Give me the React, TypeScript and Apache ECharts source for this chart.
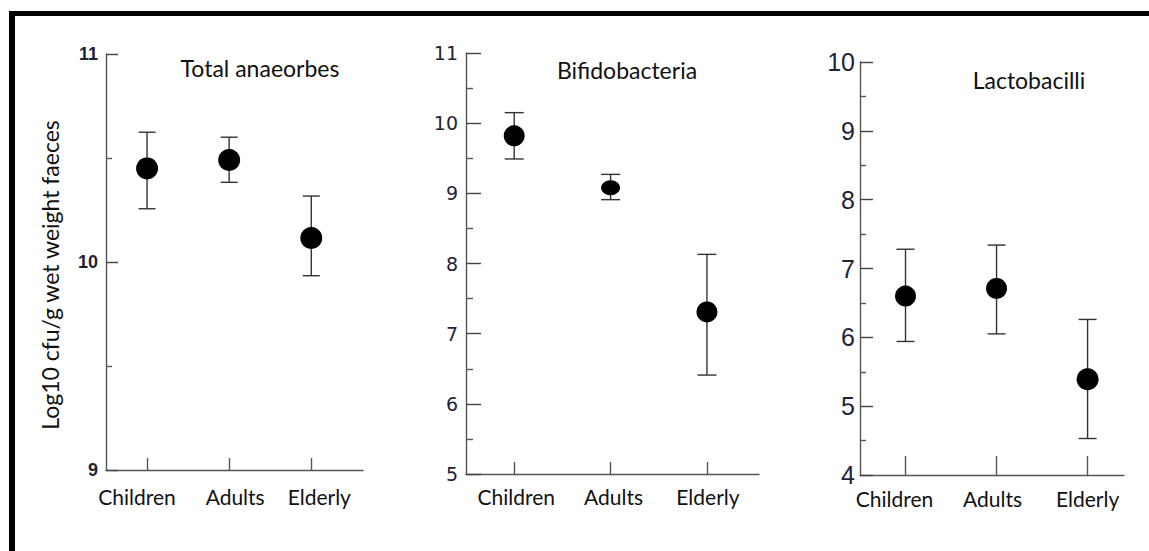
import React, { useEffect, useRef } from "react";
import * as echarts from "echarts";

// Age groups shown on every panel
const groups = ["Children", "Adults", "Elderly"];

// Total anaerobes (log10 cfu/g wet weight faeces): mean and error-bar limits
const anaerobesMean = [10.45, 10.49, 10.115];
const anaerobesLow = [10.256, 10.383, 9.934];
const anaerobesHigh = [10.624, 10.6, 10.317];

// Bifidobacteria
const bifidoMean = [9.82, 9.08, 7.31];
const bifidoLow = [9.49, 8.91, 6.41];
const bifidoHigh = [10.15, 9.27, 8.13];

// Lactobacilli
const lactoMean = [6.6, 6.71, 5.39];
const lactoLow = [5.94, 6.05, 4.53];
const lactoHigh = [7.28, 7.34, 6.26];

// Y-axis ranges for the three panels
const yMin = [9, 5, 4];
const yMax = [11, 11, 10];

const panelTitles = ["Total anaeorbes", "Bifidobacteria", "Lactobacilli"];
const yAxisTitle = "Log10 cfu/g wet weight faeces";

const LABEL_FONT = "Lato, 'Open Sans', sans-serif";

// Layout of each panel
const panels = [
  {
    grid: { left: 106, top: 54, width: 257, height: 416 },
    xMax: 2.63,
    xTickLen: 12,
    yTickLen: 12,
    yMinorLen: 6,
    yLabel: { fontSize: 18, fontWeight: "bold", fontFamily: "Liberation Sans, Arial, sans-serif", margin: 8 },
    xLabelMargin: 16,
    labelShift: [-10, 6, 8],
    capWidth: 17,
    title: { x: 260, y: 70 },
    mean: anaerobesMean,
    low: anaerobesLow,
    high: anaerobesHigh,
    symbolSizes: [22, 22, 22],
  },
  {
    grid: { left: 466, top: 53, width: 293, height: 421 },
    xMax: 2.54,
    xTickLen: 12,
    yTickLen: 15,
    yMinorLen: 7,
    yLabel: { fontSize: 19, fontWeight: "normal", fontFamily: "DejaVu Sans, Verdana, sans-serif", margin: 8 },
    xLabelMargin: 12,
    labelShift: [2, 3, 1],
    capWidth: 19,
    title: { x: 627, y: 72 },
    mean: bifidoMean,
    low: bifidoLow,
    high: bifidoHigh,
    symbolSizes: [21, [19, 15], 21],
  },
  {
    grid: { left: 860, top: 62, width: 264, height: 413 },
    xMax: 2.4,
    xTickLen: 19,
    yTickLen: 13,
    yMinorLen: 6,
    yLabel: {
      fontSize: 25,
      fontWeight: "normal",
      fontFamily: "Liberation Sans Narrow, Liberation Sans, Arial, sans-serif",
      margin: 5,
    },
    xLabelMargin: 13,
    labelShift: [-11, -4, 0],
    capWidth: 18,
    title: { x: 1029, y: 82 },
    mean: lactoMean,
    low: lactoLow,
    high: lactoHigh,
    symbolSizes: [21, 21, 22],
  },
];

function shiftPadding(shift: number): number[] {
  // Center-aligned label: extra padding on one side moves the text the other way
  return shift < 0 ? [0, -2 * shift, 0, 0] : [0, 0, 0, 2 * shift];
}

function buildOption() {
  const grids = panels.map((p) => ({ ...p.grid }));

  const xAxes = panels.map((p, i) => {
    const rich: Record<string, any> = {};
    groups.forEach((_, k) => {
      rich["g" + k] = {
        fontSize: 21,
        fontFamily: LABEL_FONT,
        color: "#111",
        padding: shiftPadding(p.labelShift[k]),
      };
    });
    return {
      type: "value",
      gridIndex: i,
      min: -0.5,
      max: p.xMax,
      splitLine: { show: false },
      axisLine: { show: true, onZero: false, lineStyle: { color: "#555", width: 1.4 } },
      axisTick: {
        show: true,
        inside: true,
        length: p.xTickLen,
        customValues: [0, 1, 2],
        lineStyle: { color: "#555", width: 1.4 },
      },
      axisLabel: {
        show: true,
        customValues: [0, 1, 2],
        margin: p.xLabelMargin,
        formatter: (v: number) => {
          const k = Math.round(v);
          return "{g" + k + "|" + groups[k] + "}";
        },
        rich,
      },
    };
  });

  const yAxes = panels.map((p, i) => ({
    type: "value",
    gridIndex: i,
    min: yMin[i],
    max: yMax[i],
    interval: 1,
    name: i === 0 ? yAxisTitle : "",
    nameLocation: "middle",
    nameGap: 45,
    nameTextStyle: {
      fontSize: 23,
      fontFamily: LABEL_FONT,
      color: "#111",
      padding: [0, 26, 0, 0],
    },
    splitLine: { show: false },
    axisLine: { show: true, onZero: false, lineStyle: { color: "#555", width: 1.4 } },
    axisTick: { show: true, inside: true, length: p.yTickLen, lineStyle: { color: "#444", width: 1.4 } },
    minorTick: { show: true, splitNumber: 2, length: p.yMinorLen, lineStyle: { color: "#555", width: 1.4 } },
    axisLabel: {
      fontSize: p.yLabel.fontSize,
      fontWeight: p.yLabel.fontWeight,
      fontFamily: p.yLabel.fontFamily,
      margin: p.yLabel.margin,
      color: "#1e2438",
    },
  }));

  const series: any[] = [];
  panels.forEach((p, i) => {
    series.push({
      type: "custom",
      xAxisIndex: i,
      yAxisIndex: i,
      encode: { x: 0, y: [1, 2] },
      data: groups.map((_, k) => [k, p.low[k], p.high[k]]),
      renderItem: (_params: any, api: any) => {
        const x = api.value(0);
        const lo = api.coord([x, api.value(1)]);
        const hi = api.coord([x, api.value(2)]);
        const half = p.capWidth / 2;
        const style = { stroke: "#333", lineWidth: 1.4 };
        return {
          type: "group",
          children: [
            { type: "line", shape: { x1: hi[0], y1: hi[1], x2: lo[0], y2: lo[1] }, style },
            { type: "line", shape: { x1: hi[0] - half, y1: hi[1], x2: hi[0] + half, y2: hi[1] }, style },
            { type: "line", shape: { x1: lo[0] - half, y1: lo[1], x2: lo[0] + half, y2: lo[1] }, style },
          ],
        };
      },
      z: 2,
    });
    series.push({
      type: "scatter",
      xAxisIndex: i,
      yAxisIndex: i,
      symbol: "circle",
      data: groups.map((_, k) => ({
        value: [k, p.mean[k]],
        symbolSize: p.symbolSizes[k],
      })),
      itemStyle: { color: "#000", opacity: 1 },
      z: 3,
    });
  });

  const titles = panels.map((p, i) => ({
    text: panelTitles[i],
    left: p.title.x,
    top: p.title.y - 14,
    padding: 0,
    textAlign: "center",
    textStyle: { fontSize: 23, fontWeight: "normal", fontFamily: LABEL_FONT, color: "#111" },
  }));

  return {
    animation: false,
    backgroundColor: "#fff",
    title: titles,
    grid: grids,
    xAxis: xAxes,
    yAxis: yAxes,
    series,
    graphic: [
      // frame: heavy rule along the top and left edges
      { type: "rect", shape: { x: 9, y: 11, width: 1140, height: 5 }, style: { fill: "#000" }, silent: true },
      { type: "rect", shape: { x: 9, y: 11, width: 6, height: 540 }, style: { fill: "#000" }, silent: true },
    ],
  };
}

export default function App() {
  const ref = useRef<HTMLDivElement>(null);

  useEffect(() => {
    if (!ref.current) return;
    const chart = echarts.init(ref.current, null, { renderer: "svg" });
    chart.setOption(buildOption() as any);
    return () => chart.dispose();
  }, []);

  return (
    <div
      ref={ref}
      style={{ position: "absolute", left: 0, top: 0, width: 1149, height: 551, background: "#fff" }}
    />
  );
}
